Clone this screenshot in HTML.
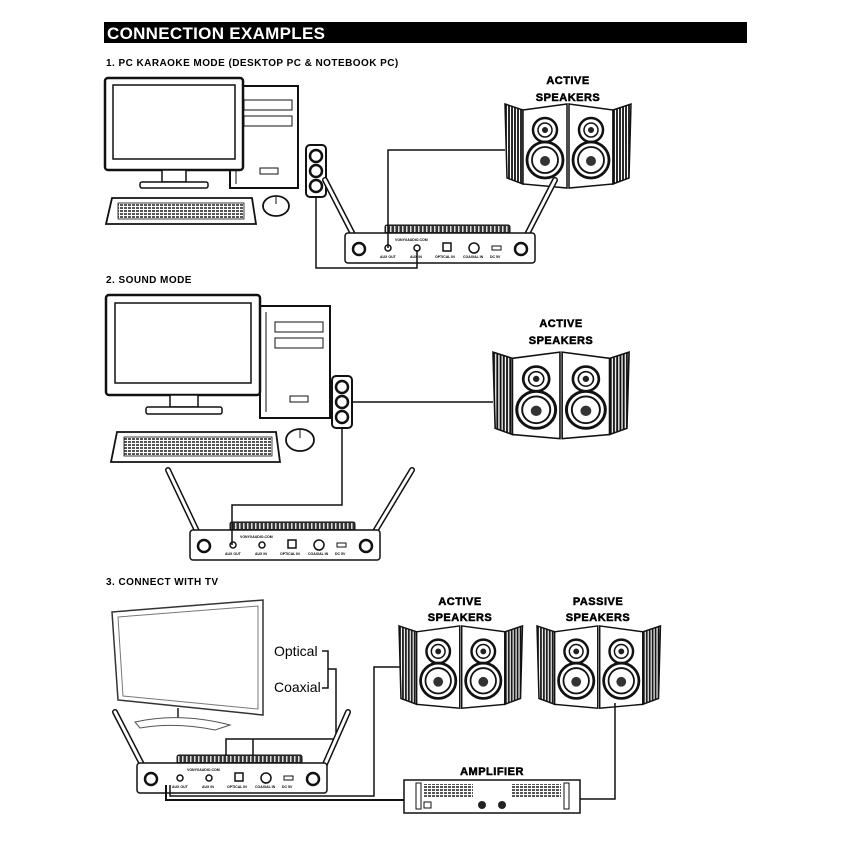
<!DOCTYPE html>
<html><head><meta charset="utf-8"><style>
html,body{margin:0;padding:0;background:#fff}
svg{display:block}
text{font-family:"Liberation Sans",Arial,sans-serif}
.h{font-size:11px;font-weight:bold;stroke:#000;stroke-width:.5;letter-spacing:.5px}
.s{font-size:10px;font-weight:bold;letter-spacing:.45px}
</style></head><body>
<svg width="850" height="850" viewBox="0 0 850 850" xmlns="http://www.w3.org/2000/svg">
<defs>
<pattern id="wood" width="3" height="10" patternUnits="userSpaceOnUse">
<rect width="3" height="10" fill="#fff"/><line x1="1" y1="0" x2="1" y2="10" stroke="#111" stroke-width="1.8"/>
</pattern>
<pattern id="grill" width="4" height="3" patternUnits="userSpaceOnUse">
<rect width="4" height="3" fill="#fff"/><rect x="0" y="0" width="3" height="2" fill="#555"/>
</pattern>
<pattern id="knob" width="4" height="8" patternUnits="userSpaceOnUse">
<rect width="4" height="8" fill="#333"/><rect x="1" y="1" width="1.5" height="6" fill="#ddd"/>
</pattern>
<g id="spk">
<polygon points="0,4 18,10 18,84 2,78" fill="url(#wood)" stroke="#111" stroke-width="1.5"/>
<polygon points="18,10 62,4 62,88 18,84" fill="#fff" stroke="#111" stroke-width="1.5"/>
<circle cx="40" cy="30" r="12" fill="#fff" stroke="#111" stroke-width="2.5"/>
<circle cx="40" cy="30" r="7" fill="#fff" stroke="#111" stroke-width="1.5"/>
<circle cx="40" cy="30" r="3" fill="#222"/>
<circle cx="40" cy="60" r="18" fill="#fff" stroke="#111" stroke-width="2.8"/>
<circle cx="40" cy="60" r="13" fill="#fff" stroke="#111" stroke-width="1.8"/>
<circle cx="40" cy="61" r="5" fill="#333"/>
<polygon points="64,4 108,10 108,84 64,88" fill="#fff" stroke="#111" stroke-width="1.5"/>
<polygon points="108,10 126,4 124,78 108,84" fill="url(#wood)" stroke="#111" stroke-width="1.5"/>
<circle cx="86" cy="30" r="12" fill="#fff" stroke="#111" stroke-width="2.5"/>
<circle cx="86" cy="30" r="7" fill="#fff" stroke="#111" stroke-width="1.5"/>
<circle cx="86" cy="30" r="3" fill="#222"/>
<circle cx="86" cy="60" r="18" fill="#fff" stroke="#111" stroke-width="2.8"/>
<circle cx="86" cy="60" r="13" fill="#fff" stroke="#111" stroke-width="1.8"/>
<circle cx="86" cy="61" r="5" fill="#333"/>
</g>
<g id="rcv">
<rect x="40" y="-8" width="125" height="9" rx="2" fill="url(#knob)" stroke="#111"/>
<rect x="0" y="0" width="190" height="30" rx="3" fill="#fff" stroke="#111" stroke-width="1.5"/>
<circle cx="14" cy="16" r="6" fill="#fff" stroke="#111" stroke-width="2.5"/>
<circle cx="176" cy="16" r="6" fill="#fff" stroke="#111" stroke-width="2.5"/>
<circle cx="43" cy="15" r="3" fill="#fff" stroke="#111" stroke-width="1.5"/>
<circle cx="72" cy="15" r="3" fill="#fff" stroke="#111" stroke-width="1.5"/>
<rect x="98" y="10" width="8" height="8" fill="#fff" stroke="#111" stroke-width="1.5"/>
<circle cx="129" cy="15" r="5" fill="#fff" stroke="#111" stroke-width="1.5"/>
<rect x="147" y="13" width="9" height="4" fill="#fff" stroke="#111"/>
<text x="50" y="8" font-size="3.5" font-weight="bold">VONYXAUDIO.COM</text>
<text x="35" y="25" font-size="3.5" font-weight="bold">AUX OUT</text>
<text x="65" y="25" font-size="3.5" font-weight="bold">AUX IN</text>
<text x="90" y="25" font-size="3.5" font-weight="bold">OPTICAL IN</text>
<text x="118" y="25" font-size="3.5" font-weight="bold">COAXIAL IN</text>
<text x="145" y="25" font-size="3.5" font-weight="bold">DC 5V</text>
</g>
<g id="jack">
<rect x="0" y="0" width="20" height="52" rx="4" fill="#fff" stroke="#111" stroke-width="2"/>
<circle cx="10" cy="11" r="6" fill="#fff" stroke="#111" stroke-width="2.5"/>
<circle cx="10" cy="26" r="6" fill="#fff" stroke="#111" stroke-width="2.5"/>
<circle cx="10" cy="41" r="6" fill="#fff" stroke="#111" stroke-width="2.5"/>
</g>
</defs>

<rect x="104" y="22" width="643" height="21" fill="#000"/>
<text x="107" y="39" font-size="17" font-weight="bold" fill="#fff" letter-spacing=".3">CONNECTION EXAMPLES</text>

<!-- SECTION 1 -->
<text x="106" y="66" class="s">1.   PC KARAOKE MODE (DESKTOP PC &amp; NOTEBOOK PC)</text>
<rect x="230" y="86" width="68" height="102" fill="#fff" stroke="#111" stroke-width="2"/>
<line x1="236" y1="92" x2="236" y2="184" stroke="#111"/>
<rect x="244" y="100" width="48" height="10" fill="#fff" stroke="#111"/>
<rect x="244" y="116" width="48" height="10" fill="#fff" stroke="#111"/>
<rect x="260" y="168" width="18" height="6" fill="#fff" stroke="#111"/>
<rect x="105" y="78" width="138" height="92" rx="3" fill="#fff" stroke="#111" stroke-width="2.5"/>
<rect x="113" y="85" width="122" height="74" fill="#fff" stroke="#111" stroke-width="1.5"/>
<rect x="162" y="170" width="24" height="12" fill="#fff" stroke="#111" stroke-width="1.5"/>
<rect x="140" y="182" width="68" height="6" rx="2" fill="#fff" stroke="#111" stroke-width="1.5"/>
<polygon points="112,198 252,198 256,224 106,224" fill="#fff" stroke="#111" stroke-width="1.8"/>
<rect x="118" y="203" width="126" height="16" fill="url(#grill)" stroke="#111" stroke-width=".8"/>
<ellipse cx="276" cy="206" rx="13" ry="10" fill="#fff" stroke="#111" stroke-width="1.8"/>
<line x1="276" y1="197" x2="276" y2="204" stroke="#111"/>
<use href="#jack" x="306" y="145"/>
<text x="568" y="84" class="h" text-anchor="middle">ACTIVE</text>
<text x="568" y="101" class="h" text-anchor="middle">SPEAKERS</text>
<use href="#spk" x="505" y="100"/>
<line x1="360" y1="248" x2="325" y2="180" stroke="#111" stroke-width="6" stroke-linecap="round"/>
<line x1="360" y1="248" x2="325" y2="180" stroke="#fff" stroke-width="3" stroke-linecap="round"/>
<line x1="520" y1="248" x2="555" y2="180" stroke="#111" stroke-width="6" stroke-linecap="round"/>
<line x1="520" y1="248" x2="555" y2="180" stroke="#fff" stroke-width="3" stroke-linecap="round"/>
<use href="#rcv" x="345" y="233"/>
<polyline points="505,150 388,150 388,248" fill="none" stroke="#111" stroke-width="1.5"/>
<polyline points="316,197 316,268 417,268 417,250" fill="none" stroke="#111" stroke-width="1.5"/>

<!-- SECTION 2 -->
<text x="106" y="283" class="s">2.   SOUND MODE</text>
<rect x="260" y="306" width="70" height="112" fill="#fff" stroke="#111" stroke-width="2"/>
<line x1="266" y1="312" x2="266" y2="412" stroke="#111"/>
<rect x="275" y="322" width="48" height="10" fill="#fff" stroke="#111"/>
<rect x="275" y="338" width="48" height="10" fill="#fff" stroke="#111"/>
<rect x="290" y="396" width="18" height="6" fill="#fff" stroke="#111"/>
<rect x="106" y="295" width="154" height="100" rx="3" fill="#fff" stroke="#111" stroke-width="2.5"/>
<rect x="115" y="303" width="136" height="80" fill="#fff" stroke="#111" stroke-width="1.5"/>
<rect x="170" y="395" width="28" height="12" fill="#fff" stroke="#111" stroke-width="1.5"/>
<rect x="146" y="407" width="76" height="7" rx="2" fill="#fff" stroke="#111" stroke-width="1.5"/>
<polygon points="117,432 276,432 280,462 111,462" fill="#fff" stroke="#111" stroke-width="1.8"/>
<rect x="124" y="437" width="148" height="19" fill="url(#grill)" stroke="#111" stroke-width=".8"/>
<ellipse cx="300" cy="440" rx="14" ry="11" fill="#fff" stroke="#111" stroke-width="1.8"/>
<line x1="300" y1="430" x2="300" y2="438" stroke="#111"/>
<use href="#jack" x="332" y="376"/>
<text x="561" y="327" class="h" text-anchor="middle">ACTIVE</text>
<text x="561" y="344" class="h" text-anchor="middle">SPEAKERS</text>
<g transform="translate(493,348) scale(1.08,1.03)"><use href="#spk"/></g>
<line x1="205" y1="548" x2="168" y2="470" stroke="#111" stroke-width="6" stroke-linecap="round"/>
<line x1="205" y1="548" x2="168" y2="470" stroke="#fff" stroke-width="3" stroke-linecap="round"/>
<line x1="365" y1="548" x2="412" y2="470" stroke="#111" stroke-width="6" stroke-linecap="round"/>
<line x1="365" y1="548" x2="412" y2="470" stroke="#fff" stroke-width="3" stroke-linecap="round"/>
<use href="#rcv" x="190" y="530"/>
<polyline points="352,402 493,402" fill="none" stroke="#111" stroke-width="1.5"/>
<polyline points="342,428 342,505 232,505 232,545" fill="none" stroke="#111" stroke-width="1.5"/>

<!-- SECTION 3 -->
<text x="106" y="585" class="s">3.   CONNECT WITH TV</text>
<polygon points="112,612 263,600 263,715 118,700" fill="#fff" stroke="#333" stroke-width="1.5"/>
<polygon points="118,617 258,606 258,709 123,696" fill="#fff" stroke="#777" stroke-width="1"/>
<path d="M135,722 Q180,712 230,725 L215,730 Q175,722 140,728 Z" fill="#fff" stroke="#555"/>
<line x1="178" y1="708" x2="178" y2="718" stroke="#555" stroke-width="2"/>
<text x="274" y="656" font-size="14">Optical</text>
<text x="274" y="692" font-size="14">Coaxial</text>
<polyline points="322,651 328,651 328,688 322,688" fill="none" stroke="#111" stroke-width="1.5"/>
<polyline points="328,669 336,669 336,739 226,739 226,765" fill="none" stroke="#111" stroke-width="1.5"/>
<polyline points="253,739 253,765" fill="none" stroke="#111" stroke-width="1.5"/>
<text x="460" y="605" class="h" text-anchor="middle">ACTIVE</text>
<text x="460" y="621" class="h" text-anchor="middle">SPEAKERS</text>
<g transform="translate(399,622) scale(0.98,0.98)"><use href="#spk"/></g>
<text x="598" y="605" class="h" text-anchor="middle">PASSIVE</text>
<text x="598" y="621" class="h" text-anchor="middle">SPEAKERS</text>
<g transform="translate(537,622) scale(0.98,0.98)"><use href="#spk"/></g>
<line x1="150" y1="780" x2="115" y2="712" stroke="#111" stroke-width="6" stroke-linecap="round"/>
<line x1="150" y1="780" x2="115" y2="712" stroke="#fff" stroke-width="3" stroke-linecap="round"/>
<line x1="318" y1="780" x2="348" y2="712" stroke="#111" stroke-width="6" stroke-linecap="round"/>
<line x1="318" y1="780" x2="348" y2="712" stroke="#fff" stroke-width="3" stroke-linecap="round"/>
<use href="#rcv" x="137" y="763"/>
<text x="492" y="775" class="h" text-anchor="middle">AMPLIFIER</text>
<rect x="404" y="780" width="176" height="33" fill="#fff" stroke="#111" stroke-width="1.5"/>
<rect x="416" y="783" width="5" height="26" fill="#fff" stroke="#111"/>
<rect x="564" y="783" width="5" height="26" fill="#fff" stroke="#111"/>
<rect x="423" y="784" width="50" height="14" fill="url(#grill)"/>
<rect x="511" y="784" width="50" height="14" fill="url(#grill)"/>
<rect x="424" y="802" width="7" height="6" fill="#fff" stroke="#111"/>
<circle cx="482" cy="805" r="4" fill="#222"/>
<circle cx="502" cy="805" r="4" fill="#222"/>
<polyline points="400,667 374,667 374,796 170,796 170,785" fill="none" stroke="#111" stroke-width="1.5"/>
<polyline points="166,785 166,800 404,800" fill="none" stroke="#111" stroke-width="2"/>
<polyline points="615,703 615,799 580,799" fill="none" stroke="#111" stroke-width="1.5"/>
</svg>
</body></html>
